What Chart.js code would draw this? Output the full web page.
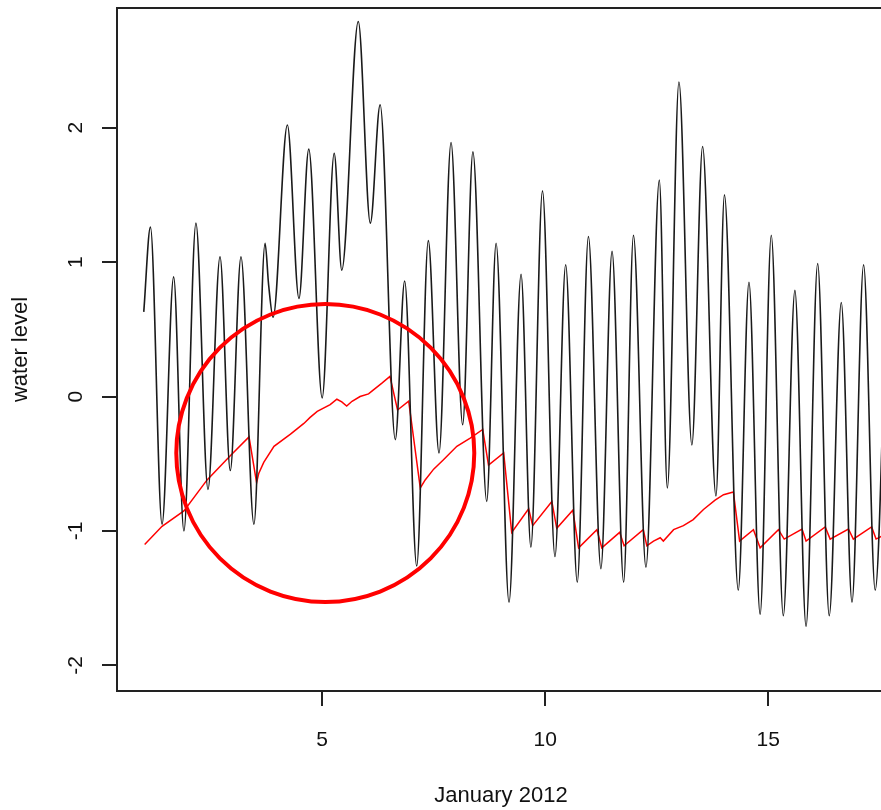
<!DOCTYPE html>
<html>
<head>
<meta charset="utf-8">
<title>Water level, January 2012</title>
<script src="https://cdn.jsdelivr.net/npm/chart.js@4.4.1/dist/chart.umd.min.js"></script>
<style>
  html, body { margin: 0; padding: 0; background: #fff; overflow: hidden; }
  canvas { display: block; }
</style>
</head>
<body>
<canvas id="chart-level" width="886" height="810"></canvas>
<script>
// Observed water level: high / low water turning points (day of month, level)
const TIDE_DAYS = [
  1.00, 1.15, 1.41, 1.67, 1.90, 2.17, 2.44, 2.71, 2.94, 3.18,
  3.47, 3.72, 3.80, 3.90, 4.22, 4.48, 4.70, 5.00, 5.27, 5.44,
  5.81, 6.08, 6.30, 6.64, 6.85, 7.12, 7.38, 7.62, 7.89, 8.15,
  8.38, 8.69, 8.90, 9.19, 9.46, 9.68, 9.94, 10.22, 10.46, 10.72,
  10.97, 11.25, 11.50, 11.76, 11.98, 12.26, 12.56, 12.74, 13.00, 13.29,
  13.53, 13.83, 14.02, 14.33, 14.57, 14.82, 15.07, 15.34, 15.60, 15.85,
  16.11, 16.37, 16.64, 16.88, 17.14, 17.40, 17.66
];
const TIDE_LEVELS = [
  0.63, 1.26, -0.95, 0.89, -1.00, 1.29, -0.69, 1.04, -0.55, 1.04,
  -0.95, 1.14, 0.83, 0.59, 2.02, 0.73, 1.84, -0.01, 1.81, 0.94,
  2.79, 1.29, 2.17, -0.32, 0.86, -1.26, 1.16, -0.42, 1.89, -0.21,
  1.82, -0.78, 1.14, -1.53, 0.91, -1.12, 1.53, -1.19, 0.98, -1.38,
  1.19, -1.28, 1.08, -1.38, 1.20, -1.27, 1.61, -0.68, 2.34, -0.36,
  1.86, -0.74, 1.50, -1.44, 0.85, -1.62, 1.20, -1.63, 0.79, -1.71,
  0.99, -1.63, 0.70, -1.53, 0.98, -1.44, 0.85
];

// Slowly varying (filtered) level
const RESID_DAYS = [
  1.02, 1.41, 1.90, 2.42, 2.94, 3.36, 3.53, 3.58, 3.69, 3.92,
  4.29, 4.59, 4.73, 4.89, 5.18, 5.33, 5.44, 5.55, 5.67, 5.85,
  6.04, 6.15, 6.34, 6.52, 6.69, 6.94, 7.20, 7.31, 7.50, 7.72,
  8.02, 8.32, 8.60, 8.73, 9.07, 9.25, 9.63, 9.72, 10.15, 10.26,
  10.62, 10.75, 11.16, 11.27, 11.67, 11.77, 12.20, 12.28, 12.43, 12.58,
  12.65, 12.88, 13.10, 13.32, 13.55, 13.81, 14.00, 14.22, 14.36, 14.67,
  14.82, 15.23, 15.36, 15.76, 15.85, 16.28, 16.39, 16.80, 16.91, 17.32,
  17.42, 17.60
];
const RESID_LEVELS = [
  -1.10, -0.965, -0.85, -0.62, -0.44, -0.30, -0.64, -0.57, -0.49, -0.37,
  -0.28, -0.20, -0.155, -0.11, -0.06, -0.02, -0.04, -0.07, -0.035, 0.00,
  0.02, 0.05, 0.10, 0.15, -0.10, -0.035, -0.68, -0.62, -0.54, -0.47,
  -0.37, -0.31, -0.245, -0.51, -0.42, -1.01, -0.835, -0.96, -0.78, -0.98,
  -0.845, -1.125, -0.99, -1.125, -1.01, -1.11, -0.99, -1.11, -1.075, -1.05,
  -1.075, -0.99, -0.96, -0.915, -0.84, -0.77, -0.73, -0.71, -1.075, -0.99,
  -1.125, -0.99, -1.06, -0.985, -1.075, -0.97, -1.06, -0.985, -1.06, -0.97,
  -1.06, -1.03
];

const X_TICKS = [5, 10, 15];
const Y_TICKS = [-2, -1, 0, 1, 2];
const X_RANGE = [0.4, 17.62];
const Y_RANGE = [-2.19, 2.89];

const X_TITLE = 'January 2012';
const Y_TITLE = 'water level';

// period ringed in red
const FOCUS_DAY = 5.07;
const FOCUS_LEVEL = -0.42;

const FONT = '"Liberation Sans", Arial, Helvetica, sans-serif';
const TICK_LEN = 15;

const toPoints = (xs, ys) => xs.map((d, i) => ({ x: d, y: ys[i] }));

// base-graphics style axes: open box, outward ticks, rotated y labels
const rAxes = {
  id: 'rAxes',
  afterDatasetsDraw(chart) {
    const { ctx, chartArea: a, scales: { x, y } } = chart;
    ctx.save();
    ctx.strokeStyle = '#222';
    ctx.lineWidth = 2;
    ctx.beginPath();
    ctx.moveTo(a.right, a.top);
    ctx.lineTo(a.left, a.top);
    ctx.lineTo(a.left, a.bottom);
    ctx.lineTo(a.right, a.bottom);
    ctx.stroke();

    ctx.beginPath();
    X_TICKS.forEach(v => {
      const px = Math.round(x.getPixelForValue(v));
      ctx.moveTo(px, a.bottom);
      ctx.lineTo(px, a.bottom + TICK_LEN);
    });
    Y_TICKS.forEach(v => {
      const py = Math.round(y.getPixelForValue(v));
      ctx.moveTo(a.left, py);
      ctx.lineTo(a.left - TICK_LEN, py);
    });
    ctx.stroke();

    ctx.fillStyle = '#111';
    ctx.textAlign = 'center';
    ctx.textBaseline = 'middle';
    ctx.font = '21px ' + FONT;
    X_TICKS.forEach(v => ctx.fillText(String(v), x.getPixelForValue(v), a.bottom + 49));
    Y_TICKS.forEach(v => {
      ctx.save();
      ctx.translate(a.left - 41, y.getPixelForValue(v));
      ctx.rotate(-Math.PI / 2);
      ctx.fillText(String(v), 0, 0);
      ctx.restore();
    });

    ctx.font = '22px ' + FONT;
    ctx.fillText(X_TITLE, (a.left + a.right) / 2, a.bottom + 105);
    ctx.save();
    ctx.translate(21, (a.top + a.bottom) / 2);
    ctx.rotate(-Math.PI / 2);
    ctx.fillText(Y_TITLE, 0, 0);
    ctx.restore();
    ctx.restore();
  }
};

// red ring drawn over the lines
const focusRing = {
  id: 'focusRing',
  afterDatasetsDraw(chart) {
    const { ctx, scales: { x, y } } = chart;
    ctx.save();
    ctx.strokeStyle = '#ff0000';
    ctx.lineWidth = 4;
    ctx.beginPath();
    ctx.arc(x.getPixelForValue(FOCUS_DAY), y.getPixelForValue(FOCUS_LEVEL), 149, 0, Math.PI * 2);
    ctx.stroke();
    ctx.restore();
  }
};

new Chart(document.getElementById('chart-level'), {
  type: 'line',
  data: {
    datasets: [
      {
        label: 'observed',
        data: toPoints(TIDE_DAYS, TIDE_LEVELS),
        borderColor: '#1a1a1a',
        borderWidth: 1.6,
        pointRadius: 0,
        cubicInterpolationMode: 'monotone',
      },
      {
        label: 'filtered',
        data: toPoints(RESID_DAYS, RESID_LEVELS),
        borderColor: '#ff0000',
        borderWidth: 1.5,
        pointRadius: 0,
        tension: 0,
      },
    ],
  },
  options: {
    responsive: false,
    animation: false,
    layout: { padding: { left: 117, top: 8, right: 1, bottom: 119 } },
    plugins: { legend: { display: false }, tooltip: { enabled: false } },
    scales: {
      x: { type: 'linear', display: false, min: X_RANGE[0], max: X_RANGE[1] },
      y: { type: 'linear', display: false, min: Y_RANGE[0], max: Y_RANGE[1] },
    },
  },
  plugins: [rAxes, focusRing],
});
</script>
</body>
</html>
